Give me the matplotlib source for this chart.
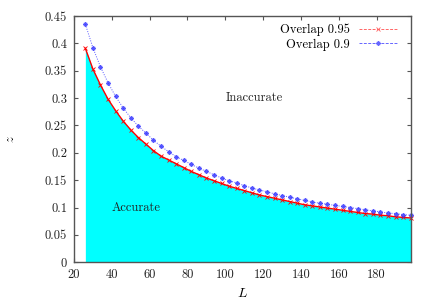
import matplotlib
matplotlib.use("Agg")
import matplotlib.pyplot as plt
from matplotlib.lines import Line2D

L = [26, 30, 34, 38, 42, 46, 50, 54, 58, 62,
     66, 70, 74, 78, 82, 86, 90, 94, 98, 102,
     106, 110, 114, 118, 122, 126, 130, 134, 138, 142,
     146, 150, 154, 158, 162, 166, 170, 174, 178, 182,
     186, 190, 194, 198]

overlap_095 = [0.391, 0.353, 0.324, 0.298, 0.277, 0.258, 0.242, 0.228, 0.216, 0.204,
               0.194, 0.187, 0.180, 0.173, 0.166, 0.160, 0.154, 0.149, 0.144, 0.139,
               0.135, 0.131, 0.127, 0.123, 0.120, 0.117, 0.114, 0.111, 0.108, 0.105,
               0.103, 0.101, 0.099, 0.097, 0.095, 0.093, 0.091, 0.089, 0.088, 0.086,
               0.085, 0.083, 0.082, 0.081]

overlap_09 = [0.435, 0.392, 0.357, 0.328, 0.303, 0.282, 0.264, 0.249, 0.236, 0.223,
              0.212, 0.202, 0.193, 0.186, 0.179, 0.172, 0.166, 0.160, 0.154, 0.149,
              0.145, 0.140, 0.136, 0.132, 0.129, 0.125, 0.122, 0.119, 0.116, 0.113,
              0.110, 0.108, 0.106, 0.104, 0.102, 0.100, 0.098, 0.096, 0.094, 0.092,
              0.090, 0.089, 0.087, 0.086]

xticks = [20, 40, 60, 80, 100, 120, 140, 160, 180]
yticks = [0, 0.05, 0.1, 0.15, 0.2, 0.25, 0.3, 0.35, 0.4, 0.45]
ytick_labels = ["0", "0.05", "0.1", "0.15", "0.2", "0.25", "0.3", "0.35", "0.4", "0.45"]

plt.rcParams['font.family'] = ['cmr10', 'DejaVu Serif']
plt.rcParams['mathtext.fontset'] = 'cm'
plt.rcParams['font.size'] = 9

fig = plt.figure(figsize=(4.36, 3.06), dpi=100)
ax = fig.add_axes([74/436, 1 - 262.3/306, (410.7-74)/436, (262.3-16)/306])
ax.set_axisbelow(True)

ax.fill_between(L, 0, overlap_095, color='#00ffff', linewidth=0, zorder=1)
ax.plot(L, overlap_095, color='#ff0000', linewidth=1.0, marker='x',
        markersize=3.2, markeredgewidth=0.6, zorder=3, clip_on=False)
ax.plot(L, overlap_09, color='#3030ff', linewidth=0.7, linestyle=(0, (1, 1.5)),
        marker=(8, 2, 0), markersize=3.3, markeredgewidth=0.7, zorder=4,
        alpha=0.8, clip_on=False)

ax.set_xlim(20, 198)
ax.set_ylim(0, 0.45)
ax.set_xticks(xticks)
ax.set_xticklabels([str(v) for v in xticks])
ax.set_yticks(yticks)
ax.set_yticklabels(ytick_labels)

ax.tick_params(direction='in', length=3, width=0.8, color='#555555',
               top=True, right=True, labelcolor='#222222', pad=5)
for s in ax.spines.values():
    s.set_color('#555555')
    s.set_linewidth(1.0)
    s.set_zorder(5)

ax.set_xlabel('$L$', fontsize=10, labelpad=4)
ax.set_ylabel('$z$', fontsize=9, labelpad=20)

ax.text(100, 0.30, 'Inaccurate', ha='left', va='center', fontsize=9, color='#222222')
ax.text(40, 0.10, 'Accurate', ha='left', va='center', fontsize=9, color='#222222', zorder=6)

handles = [
    Line2D([], [], color='#ff6666', linewidth=0.7, linestyle=(0, (3, 1.5)),
           marker='x', markersize=3.2, markeredgewidth=0.6),
    Line2D([], [], color='#6666ff', linewidth=0.7, linestyle=(0, (3, 1.5)),
           marker=(8, 2, 0), markersize=3.3, markeredgewidth=0.7),
]
ax.legend(handles, ['Overlap 0.95', 'Overlap 0.9'], loc='upper right',
          frameon=False, markerfirst=False, handlelength=3.0, handletextpad=0.8,
          labelspacing=0.2, borderaxespad=0.3, fontsize=9,
          bbox_to_anchor=(0.985, 1.005))

fig.savefig('out.png', dpi=100)
